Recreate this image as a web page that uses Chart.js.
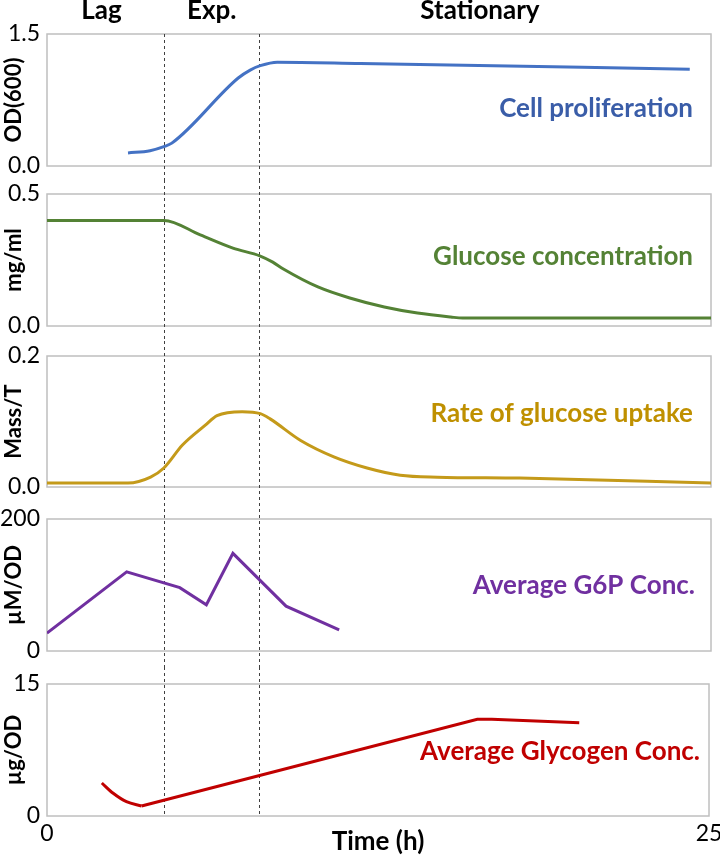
<!DOCTYPE html>
<html><head><meta charset="utf-8">
<script src="https://cdn.jsdelivr.net/npm/chart.js@4/dist/chart.umd.min.js"></script>
<style>
html,body{margin:0;padding:0;background:#fff;}
#wrap{position:relative;width:720px;height:856px;overflow:hidden;}
canvas{position:absolute;left:0;}
</style></head><body>
<div id="wrap"></div>
<script>
// ---- data ----
const phaseBounds = [4.4, 8.0];
const phaseNames = ['Lag', 'Exp.', 'Stationary'];
const phaseLabelTime = [2.05, 6.2, 16.3];
const xTickLabels = ['0', '25'];

const odTime  = [3.05, 3.88, 4.4, 4.7, 7.2, 7.65, 8.03, 8.67, 11.8, 24.2];
const odValue = [0.148, 0.174, 0.22, 0.26, 1.0, 1.09, 1.14, 1.18, 1.165, 1.10];

const glucoseTime  = [0, 4.4, 5.77, 7.0, 8.03, 8.5, 8.9, 10.2, 11.4, 12.7, 13.95, 15.2, 15.65, 25];
const glucoseValue = [0.40, 0.40, 0.345, 0.295, 0.265, 0.242, 0.216, 0.148, 0.106, 0.072, 0.049, 0.034, 0.03, 0.03];

const uptakeTime  = [0, 3.05, 3.9, 4.4, 5.1, 5.95, 6.4, 7.35, 8.03, 8.4, 9.55, 10.8, 12.05, 13.3, 14.7, 17.8, 25];
const uptakeValue = [0.006, 0.006, 0.015, 0.029, 0.064, 0.094, 0.109, 0.115, 0.112, 0.104, 0.071, 0.046, 0.029, 0.018, 0.015, 0.0136, 0.006];

const g6pTime  = [0, 3, 5, 6, 7, 9, 11];
const g6pValue = [27, 120, 96, 70, 148, 68, 32];

const glycogenArcTime   = [2.07, 2.5, 3.0, 3.57];
const glycogenArcValue  = [3.75, 2.58, 1.63, 1.14];
const glycogenLineTime  = [3.57, 16.25, 16.8, 20.1];
const glycogenLineValue = [1.14, 11.0, 11.0, 10.6];

const yTitles = ['OD(600)', 'mg/ml', 'Mass/T', 'µM/OD', 'µg/OD'];
const yMin = [0, 0, 0, 0, 0];
const yMax = [1.5, 0.5, 0.2, 200, 15];
const yTickLabels = [['0.0', '1.5'], ['0.0', '0.5'], ['0.0', '0.2'], ['0', '200'], ['0', '15']];
const seriesNames = ['Cell proliferation', 'Glucose concentration', 'Rate of glucose uptake', 'Average G6P Conc.', 'Average Glycogen Conc.'];
const xTitle = 'Time (h)';

// ---- styling / layout ----
const FONT = 'Lato';
const BOLD = 26;
const YTITLE = 22;
const TICK = 23;
const EXT = 14;
const lineColors = ['#4472C4', '#548235', '#C49A1A', '#7030A0', '#C00000'];
const textColors = ['#3A5DA8', '#548235', '#BF9000', '#7030A0', '#C00000'];
const panels = [
  {top: 0,   h: 180, pt: 34, pb: 14, pr: 9,  lblRight: 18, lblBase: 117},
  {top: 180, h: 161, pt: 14, pb: 15, pr: 9,  lblRight: 18, lblBase: 265},
  {top: 341, h: 162, pt: 15, pb: 16, pr: 9,  lblRight: 18, lblBase: 422},
  {top: 503, h: 164, pt: 16, pb: 16, pr: 9,  lblRight: 16, lblBase: 594},
  {top: 667, h: 189, pt: 17, pb: 0,  pr: 11, lblRight: 9,  lblBase: 760}
];
const series = [
  [[odTime, odValue, true]],
  [[glucoseTime, glucoseValue, true]],
  [[uptakeTime, uptakeValue, true]],
  [[g6pTime, g6pValue, false]],
  [[glycogenArcTime, glycogenArcValue, true], [glycogenLineTime, glycogenLineValue, false]]
];

const panelPlugin = {
  id: 'panelDeco',
  beforeDatasetsDraw(chart, args, o) {
    const {ctx, chartArea: a} = chart;
    ctx.save();
    ctx.strokeStyle = '#BFBFBF';
    ctx.lineWidth = 1.5;
    ctx.strokeRect(a.left, a.top, a.right - a.left, a.bottom - a.top);
    const xs = chart.scales.x;
    ctx.strokeStyle = '#404040';
    ctx.lineWidth = 1;
    ctx.setLineDash([3, 3]);
    phaseBounds.forEach(t => {
      const px = Math.round(xs.getPixelForValue(t)) + 0.5;
      ctx.beginPath();
      ctx.moveTo(px, o.first ? a.top : o.ext);
      ctx.lineTo(px, o.last ? a.bottom : chart.height);
      ctx.stroke();
    });
    ctx.restore();
  },
  afterDraw(chart, args, o) {
    const {ctx, chartArea: a} = chart;
    ctx.save();
    ctx.font = 'bold ' + BOLD + 'px ' + FONT;
    ctx.fillStyle = o.color;
    ctx.textAlign = 'right';
    ctx.textBaseline = 'alphabetic';
    ctx.fillText(o.label, a.right - o.lblRight, o.lblBase);
    if (o.first) {
      const xs = chart.scales.x;
      ctx.fillStyle = '#000';
      ctx.textAlign = 'center';
      phaseNames.forEach((n, i) => ctx.fillText(n, xs.getPixelForValue(phaseLabelTime[i]), 19));
    }
    ctx.restore();
  }
};

const wrap = document.getElementById('wrap');
panels.forEach((p, i) => {
  const first = i === 0;
  const last = i === panels.length - 1;
  const ext = first ? 0 : EXT;
  const cTop = p.top - ext, cH = p.h + ext;
  const cv = document.createElement('canvas');
  cv.width = 720; cv.height = cH;
  cv.style.top = cTop + 'px';
  cv.style.width = '720px'; cv.style.height = cH + 'px';
  wrap.appendChild(cv);
  new Chart(cv, {
    type: 'line',
    data: {
      datasets: series[i].map(([tx, vy, smooth]) => ({
        data: tx.map((t, k) => ({x: t, y: vy[k]})),
        borderColor: lineColors[i],
        borderWidth: 3,
        pointRadius: 0,
        fill: false,
        borderCapStyle: 'butt',
        cubicInterpolationMode: smooth ? 'monotone' : 'default',
        tension: 0
      }))
    },
    options: {
      responsive: false,
      animation: false,
      devicePixelRatio: 1,
      layout: {padding: {top: p.pt + ext, bottom: p.pb, left: 0, right: p.pr}},
      plugins: {
        legend: {display: false},
        tooltip: {enabled: false},
        panelDeco: {first: first, last: last, ext: ext, color: textColors[i], label: seriesNames[i],
                    lblRight: p.lblRight, lblBase: p.lblBase - cTop}
      },
      scales: {
        x: {
          type: 'linear', min: 0, max: 25,
          display: last,
          grid: {display: false, drawTicks: false},
          border: {display: false},
          afterBuildTicks: s => { s.ticks = [{value: 0}, {value: 25}]; },
          afterFit: s => { if (last) { s.height = 40; } s.paddingRight = 0; s.paddingLeft = 0; },
          ticks: {
            color: '#000', padding: 4, maxRotation: 0, autoSkip: false,
            font: {family: FONT, size: TICK},
            callback: (v, k) => xTickLabels[k]
          },
          title: {display: true, text: xTitle, color: '#000', padding: {top: 0, bottom: 0},
                  font: {family: FONT, size: BOLD, weight: 'bold', lineHeight: 1.1}}
        },
        y: {
          type: 'linear', min: yMin[i], max: yMax[i],
          grid: {display: false, drawTicks: false},
          border: {display: false},
          afterBuildTicks: s => { s.ticks = [{value: yMin[i]}, {value: yMax[i]}]; },
          afterFit: s => { s.width = 47; s.paddingTop = 0; s.paddingBottom = 0; },
          ticks: {
            color: '#000', padding: 7, autoSkip: false,
            font: {family: FONT, size: TICK},
            callback: (v, k) => yTickLabels[i][k]
          },
          title: {display: true, text: yTitles[i], color: '#000', padding: {top: 2, bottom: 0},
                  font: {family: FONT, size: YTITLE, weight: 'bold', lineHeight: 1.1}}
        }
      }
    },
    plugins: [panelPlugin]
  });
});
</script>
</body></html>
